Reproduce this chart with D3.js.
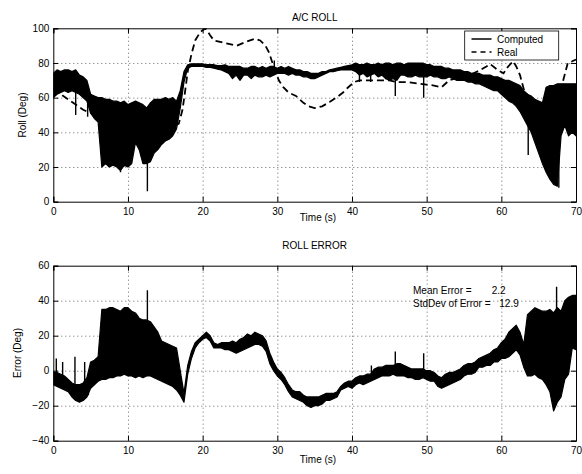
<!DOCTYPE html>
<html>
<head>
<meta charset="utf-8">
<script src="https://cdn.jsdelivr.net/npm/d3@7"></script>
<style>
  body { margin: 0; background: #fff; }
  svg text { font-family: "Liberation Sans", Arial, Helvetica, sans-serif; }
</style>
</head>
<body>
<svg id="canvas" width="582" height="474"></svg>
<script>
// sample times (s), every half second
let sampleTime = [
  0, 0.5, 1, 1.5, 2, 2.5, 3, 3.5, 4, 4.5,
  5, 5.5, 6, 6.5, 7, 7.5, 8, 8.5, 9, 9.5,
  10, 10.5, 11, 11.5, 12, 12.5, 13, 13.5, 14, 14.5,
  15, 15.5, 16, 16.5, 17, 17.5, 18, 18.5, 19, 19.5,
  20, 20.5, 21, 21.5, 22, 22.5, 23, 23.5, 24, 24.5,
  25, 25.5, 26, 26.5, 27, 27.5, 28, 28.5, 29, 29.5,
  30, 30.5, 31, 31.5, 32, 32.5, 33, 33.5, 34, 34.5,
  35, 35.5, 36, 36.5, 37, 37.5, 38, 38.5, 39, 39.5,
  40, 40.5, 41, 41.5, 42, 42.5, 43, 43.5, 44, 44.5,
  45, 45.5, 46, 46.5, 47, 47.5, 48, 48.5, 49, 49.5,
  50, 50.5, 51, 51.5, 52, 52.5, 53, 53.5, 54, 54.5,
  55, 55.5, 56, 56.5, 57, 57.5, 58, 58.5, 59, 59.5,
  60, 60.5, 61, 61.5, 62, 62.5, 63, 63.5, 64, 64.5,
  65, 65.5, 66, 66.5, 67, 67.5, 68, 68.5, 69, 69.5,
  70
];

// computed roll: top and bottom of the noise band in each half second
let rollHi = [
  74, 76, 75, 76, 76, 75, 76, 73, 72, 70,
  62, 61, 60, 60, 59, 59, 58, 58, 57, 58,
  56, 57, 58, 57, 56, 54, 57, 59, 59, 59,
  60, 59, 60, 58, 64, 75, 79, 79.5, 79.5, 79.5,
  79.5, 79, 79, 79, 78.5, 78.5, 79, 78, 78, 78,
  78, 77, 77, 78, 78, 77, 78, 77, 78, 78,
  77, 78, 77, 78, 77, 76, 76, 75, 75, 74,
  74, 74, 75, 75, 76, 76.5, 77, 77.5, 78, 78.5,
  79, 80, 79, 79, 80, 79, 79, 80, 79, 80,
  80, 79, 80, 80, 79, 80, 80, 80, 80, 80,
  79, 79, 78, 78, 78, 77, 77, 76, 76, 76,
  75, 75, 74, 74, 74, 73, 73, 73, 72, 72,
  71, 70, 70, 69, 68, 67, 64, 62, 61, 59,
  58, 57, 66, 67, 67, 68, 68, 68, 68, 68,
  68
];
let rollLo = [
  60, 62, 63, 64, 63, 64, 63, 62, 60, 58,
  51, 48, 46, 20, 22, 20, 21, 20, 18, 21,
  20, 22, 34, 30, 22, 22, 23, 28, 30, 33,
  35, 36, 38, 42, 54, 69, 77, 78, 78, 78,
  78, 77.5, 77.5, 77, 76.5, 76, 75, 74, 71, 73,
  70, 73, 73, 71, 73, 72, 72, 73, 72, 73,
  74, 74, 74, 73, 74, 73, 73, 72, 72, 71,
  71, 72, 73, 74, 75, 75, 75.5, 76, 76, 76,
  76, 75, 73, 74, 72, 73, 74, 72, 73, 71,
  70, 71, 70, 73, 73, 72, 72, 73, 72, 72,
  72, 73, 72, 72, 71, 71, 72, 71, 70, 70,
  70, 69, 69, 68, 68, 67, 66, 65, 64, 64,
  62, 60, 58, 57, 55, 52, 48, 44, 40, 34,
  28, 22, 17, 13, 10, 9, 38, 44, 38, 40,
  38
];
// isolated spikes of the computed roll
let rollSpikeTime = [3, 4.6, 9, 12.6, 29.6, 41, 42.5, 45.8, 49.6, 63.6, 67.7];
let rollSpikeValue = [50, 49, 17, 6, 81.5, 69, 69, 61, 60, 27, 8];

// real roll (dashed)
let realTime = [
  0, 0.5, 1, 2, 3, 4, 4.5, 6, 8, 10, 12, 14, 16,
  16.8, 17.3, 17.6, 18, 18.5, 19, 19.7, 20.4, 21, 21.5, 22.5, 23.5, 24.6, 25.7, 27, 27.7,
  28.4, 28.9, 29.5, 30.2, 30.8, 31.5, 32.5, 33.5, 34.2, 35, 36, 37, 38.2, 38.8, 39.5, 40.3,
  41, 43, 45, 46, 47.5, 49, 50, 51, 52, 53, 54.5, 56, 57, 58, 58.5, 59.5,
  60.3, 60.7, 61.6, 62, 62.5, 63, 64, 65, 66, 67, 67.5, 68.1, 68.9, 69.5, 70
];
let realRoll = [
  65, 64, 62, 59, 56, 53, 52, 50, 48, 46, 44, 43, 43,
  45, 53, 62, 75, 85, 93, 98, 100, 96, 93, 92, 91, 90, 92, 94, 93,
  90, 86, 78, 70, 66, 63, 61, 57, 55, 54, 55, 57.5, 61, 63, 66, 69,
  70, 70, 70, 69, 69, 68, 67.5, 67, 66, 70, 72, 73.6, 75.5, 78, 79.4, 76,
  74, 77, 81, 78, 73, 65, 58, 55, 57, 62, 65, 67, 80, 81, 82
];

// roll error: top and bottom of the noise band in each half second
let errHi = [
  -1, -1, -2, -3, -5, -7, -8, -8, -7, -4,
  5, 6, 8, 35, 35, 36, 36, 35, 34, 36,
  36, 34, 33, 30, 29, 29, 28, 25, 22, 17,
  16, 15, 14, 13, 0, -13, 3, 11, 16, 18,
  20, 22, 20, 16, 15, 16, 16, 16, 17, 16,
  18, 19, 21, 20, 22, 21, 20, 17, 10, 5,
  1, -1, -4, -8, -11, -12, -12, -14, -15, -15,
  -15, -15, -14, -13, -13, -13, -12, -9, -7, -6,
  -6, -4, -3, -3, -2, -2, 1, 2, 2, 3,
  3, 3, 4, 4, 3, 2, 1, 1, 1, 1,
  0, 0, -1, -3, -4, -2, -1, -1, 0, 1,
  3, 4, 4, 5, 7, 8, 9, 10, 12, 13,
  16, 18, 22, 24, 26, 22, 15, 32, 34, 36,
  35, 34, 34, 35, 33, 36, 34, 40, 42, 43,
  43
];
let errLo = [
  -8, -9, -10, -11, -12, -15, -17, -18, -17, -15,
  -10, -8, -6, -5, -5, -4, -4, -3, -3, -2,
  -3, -3, -4, -3, -4, -3, -3, -4, -5, -6,
  -7, -8, -9, -11, -14, -18, -2, 7, 13, 16,
  18, 19, 17, 13, 13, 13, 12, 12, 11, 10,
  11, 12, 13, 14, 15, 15, 14, 11, 4, 0,
  -3, -5, -8, -12, -15, -16, -17, -18, -20, -21,
  -20, -20, -19, -17, -17, -16, -15, -11, -10, -9,
  -10, -8, -7, -8, -7, -6, -5, -4, -3, -3,
  -3, -2, -3, -3, -3, -4, -4, -5, -5, -4,
  -5, -6, -6, -9, -10, -9, -8, -7, -6, -5,
  -3, -2, -2, -1, 2, 2, 3, 3, 5, 5,
  7, 7, 8, 10, 12, 9, 2, -3, -3, -2,
  -4, -5, -8, -12, -23, -18, -15, -5, -2, 13,
  12
];
// isolated spikes of the roll error
let errSpikeTime = [0.4, 1.25, 2.9, 4.2, 4.7, 12.6, 42.6, 45.8, 49.6, 67.4];
let errSpikeValue = [7, 5, 8, 5, -14, 46, 3, 11, 10, 48];

let timeTicks = [0, 10, 20, 30, 40, 50, 60, 70];
let rollTicks = [0, 20, 40, 60, 80, 100];
let errTicks = [-40, -20, 0, 20, 40, 60];

let legendLabels = ["Computed", "Real"];
let meanError = 2.2;
let stdError = 12.9;

let svg = d3.select("#canvas");

let x = d3.scaleLinear().domain([0, 70]).range([53.3, 576]);
let yRoll = d3.scaleLinear().domain([0, 100]).range([201.7, 28.3]);
let yErr = d3.scaleLinear().domain([-40, 60]).range([440.7, 265.7]);

let drawPanel = (y, ticks, id) => {
  let g = svg.append("g");
  let [x0, x1] = x.range();
  let [yb, yt] = y.range();
  let h = yb - yt;
  let w = x1 - x0;

  svg.append("clipPath").attr("id", id)
    .append("rect").attr("x", x0).attr("y", yt).attr("width", w).attr("height", h);

  // grid
  g.append("g")
    .attr("transform", `translate(0,${yb})`)
    .call(d3.axisBottom(x).tickValues(timeTicks.slice(1, -1)).tickSize(-h).tickFormat(""))
    .call(s => s.select(".domain").remove())
    .selectAll("line").attr("stroke", "#444").attr("stroke-width", 0.8).attr("stroke-dasharray", "1,3");
  g.append("g")
    .attr("transform", `translate(${x0},0)`)
    .call(d3.axisLeft(y).tickValues(ticks.slice(1, -1)).tickSize(-w).tickFormat(""))
    .call(s => s.select(".domain").remove())
    .selectAll("line").attr("stroke", "#444").attr("stroke-width", 0.8).attr("stroke-dasharray", "1,3");

  // axes with inward ticks on all four sides
  let bottom = g.append("g").attr("transform", `translate(0,${yb})`)
    .call(d3.axisBottom(x).tickValues(timeTicks).tickSize(-5).tickPadding(6).tickFormat(d3.format("d")));
  let left = g.append("g").attr("transform", `translate(${x0},0)`)
    .call(d3.axisLeft(y).tickValues(ticks).tickSize(-5).tickPadding(4));
  let top = g.append("g").attr("transform", `translate(0,${yt})`)
    .call(d3.axisTop(x).tickValues(timeTicks).tickSize(-5).tickFormat(""));
  let right = g.append("g").attr("transform", `translate(${x1},0)`)
    .call(d3.axisRight(y).tickValues(ticks).tickSize(-5).tickFormat(""));
  [bottom, left, top, right].forEach(a => {
    a.select(".domain").attr("stroke", "#000").attr("stroke-width", 1);
    a.selectAll("line").attr("stroke", "#000");
    a.selectAll("text").attr("font-size", "10px").attr("fill", "#000")
      .attr("font-family", "'Liberation Sans', Arial, sans-serif");
  });
  return g;
};

// noisy signal: filled band + outline + thin spikes
let drawNoisy = (g, y, hi, lo, spikeT, spikeV, clip) => {
  let rows = sampleTime.map((t, i) => ({ t: t, hi: hi[i], lo: lo[i] }));
  g.append("path")
    .datum(rows)
    .attr("clip-path", `url(#${clip})`)
    .attr("fill", "#000")
    .attr("stroke", "#000")
    .attr("stroke-width", 1.2)
    .attr("stroke-linejoin", "round")
    .attr("d", d3.area().x(d => x(d.t)).y0(d => y(d.lo)).y1(d => y(d.hi)));

  let bis = d3.bisector(d => d).center;
  g.selectAll(null)
    .data(spikeT.map((t, i) => ({ t: t, v: spikeV[i], row: rows[bis(sampleTime, t)] })))
    .enter()
    .append("line")
    .attr("clip-path", `url(#${clip})`)
    .attr("x1", d => x(d.t)).attr("x2", d => x(d.t))
    .attr("y1", d => y(d.v))
    .attr("y2", d => y((d.row.hi + d.row.lo) / 2))
    .attr("stroke", "#000")
    .attr("stroke-width", 1.4);
};

// ---- A/C ROLL ----
let gRoll = drawPanel(yRoll, rollTicks, "clipRoll");

gRoll.append("path")
  .datum(realTime.map((t, i) => [t, realRoll[i]]))
  .attr("clip-path", "url(#clipRoll)")
  .attr("fill", "none")
  .attr("stroke", "#000")
  .attr("stroke-width", 1.8)
  .attr("stroke-dasharray", "7,4")
  .attr("d", d3.line().x(d => x(d[0])).y(d => yRoll(d[1])));

drawNoisy(gRoll, yRoll, rollHi, rollLo, rollSpikeTime, rollSpikeValue, "clipRoll");

svg.append("text").attr("x", 314.7).attr("y", 21).attr("text-anchor", "middle")
  .attr("font-size", "10px").text("A/C ROLL");
svg.append("text").attr("x", 318).attr("y", 221).attr("text-anchor", "middle")
  .attr("font-size", "10px").text("Time (s)");
svg.append("text").attr("transform", "translate(25.5,115) rotate(-90)").attr("text-anchor", "middle")
  .attr("font-size", "10px").text("Roll (Deg)");

// legend
let legend = svg.append("g");
legend.append("rect").attr("x", 464.7).attr("y", 31).attr("width", 94).attr("height", 29)
  .attr("fill", "#fff").attr("stroke", "#000").attr("stroke-width", 0.8);
legendLabels.forEach((label, i) => {
  let ly = 39 + i * 13;
  legend.append("line").attr("x1", 471.5).attr("x2", 491.5).attr("y1", ly).attr("y2", ly)
    .attr("stroke", "#000").attr("stroke-width", 1.5)
    .attr("stroke-dasharray", i === 0 ? null : "5,4");
  legend.append("text").attr("x", 497).attr("y", ly + 3.6).attr("font-size", "10px").text(label);
});

// ---- ROLL ERROR ----
let gErr = drawPanel(yErr, errTicks, "clipErr");

drawNoisy(gErr, yErr, errHi, errLo, errSpikeTime, errSpikeValue, "clipErr");

svg.append("text").attr("x", 314.7).attr("y", 249).attr("text-anchor", "middle")
  .attr("font-size", "10px").text("ROLL ERROR");
svg.append("text").attr("x", 318).attr("y", 463).attr("text-anchor", "middle")
  .attr("font-size", "10px").text("Time (s)");
svg.append("text").attr("transform", "translate(20.5,353) rotate(-90)").attr("text-anchor", "middle")
  .attr("font-size", "10px").text("Error (Deg)");

svg.append("text").attr("x", 413).attr("y", 293.5).attr("font-size", "10px").text("Mean Error =");
svg.append("text").attr("x", 491.7).attr("y", 293.5).attr("font-size", "10px").text(meanError.toFixed(1));
svg.append("text").attr("x", 413).attr("y", 307).attr("font-size", "10px").text("StdDev of Error =");
svg.append("text").attr("x", 499.3).attr("y", 307).attr("font-size", "10px").text(stdError.toFixed(1));
</script>
</body>
</html>
